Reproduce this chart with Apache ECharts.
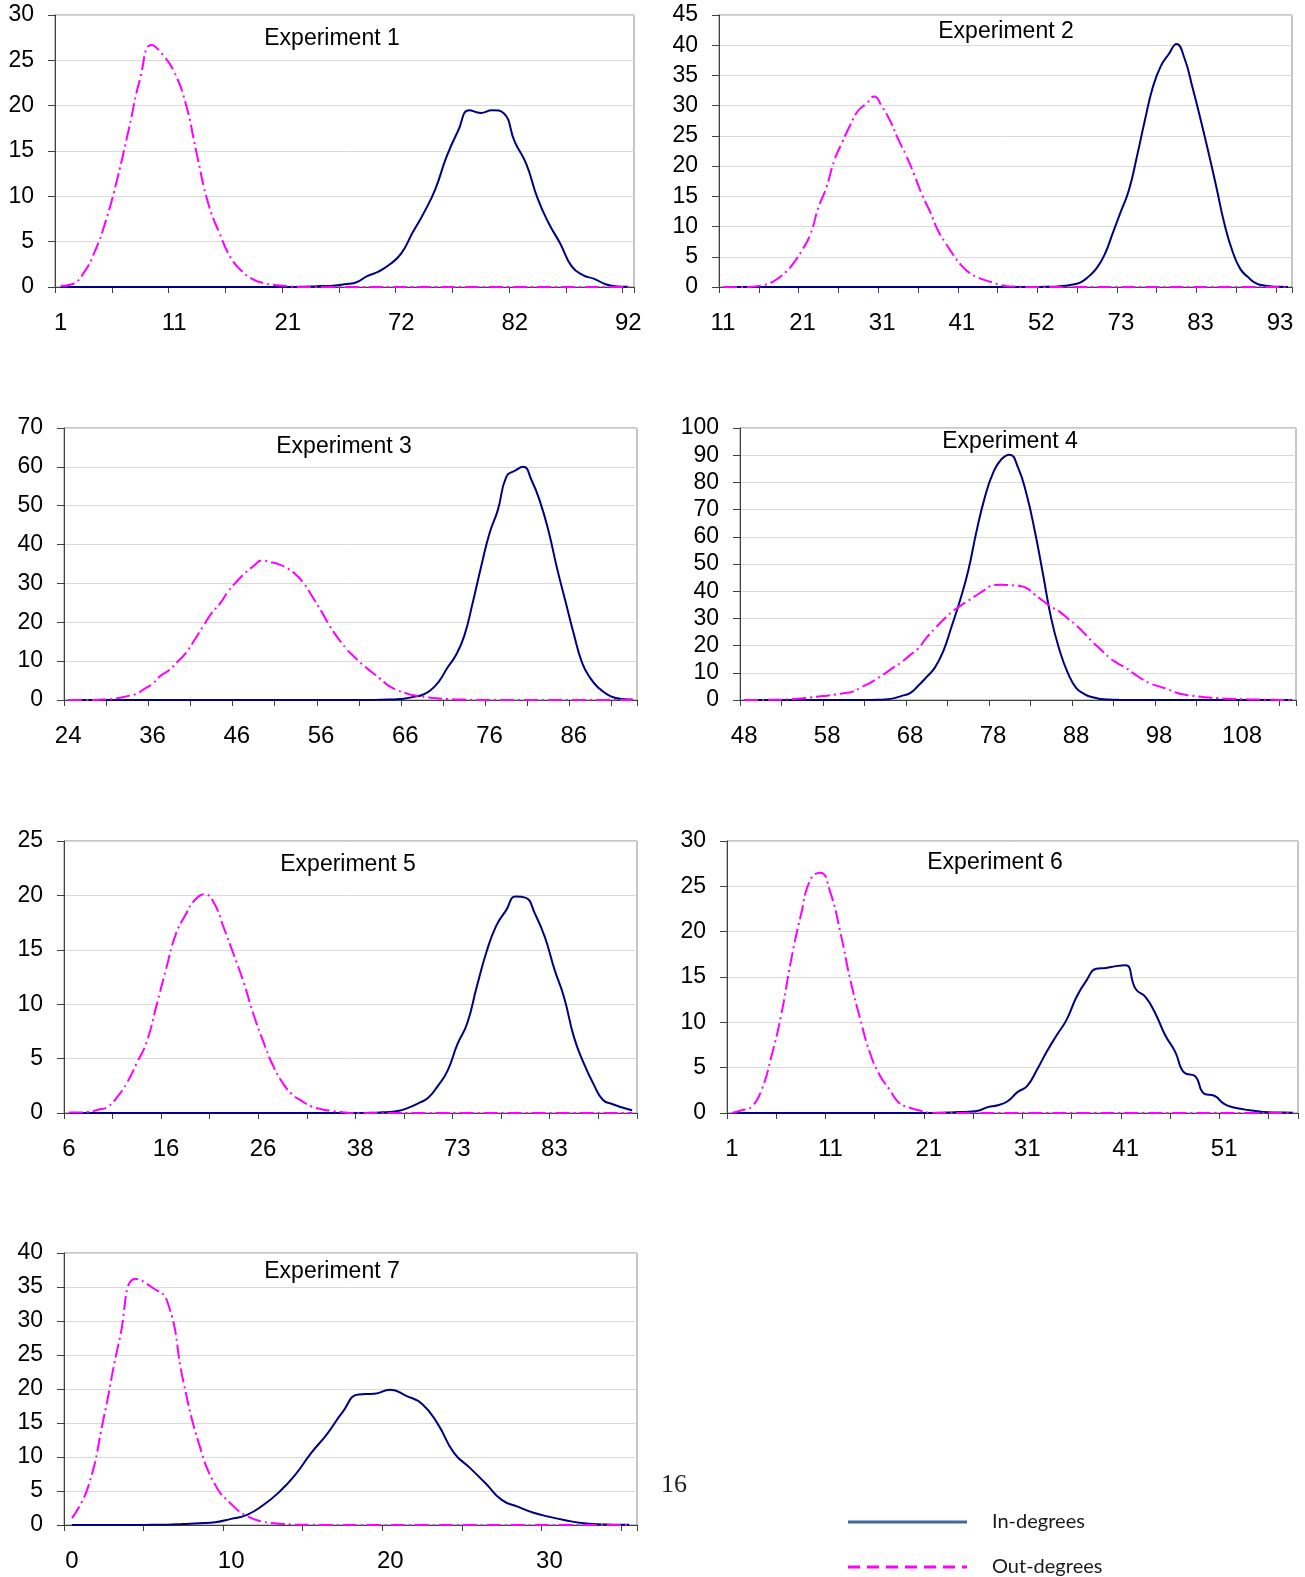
<!DOCTYPE html>
<html>
<head>
<meta charset="utf-8">
<script src="https://cdn.jsdelivr.net/npm/echarts@6/dist/echarts.min.js"></script>
<style>
html, body { margin: 0; padding: 0; background: #fff; }
#chart { width: 1305px; height: 1577px; }
</style>
</head>
<body>
<div id="chart"></div>
<script>
// category labels (degree values) for each experiment
function span(a, b) {
    const r = [];
    for (let v = a; v <= b; v++) r.push(String(v));
    return r;
}

const cats1 = span(1, 25).concat(span(67, 92));
const cats2 = span(11, 50).concat(span(52, 55), span(67, 94));
const cats3 = span(24, 33).concat(span(36, 93));
const cats4 = span(48, 114);
const cats5 = span(6, 35).concat(span(38, 42), span(68, 91));
const cats6 = span(1, 58);
const cats7 = span(0, 35);

// Experiment 1
const in1 = [0, 0, 0, 0, 0, 0, 0, 0, 0, 0, 0, 0, 0, 0, 0, 0, 0, 0, 0, 0, 0,
    0.02, 0.05, 0.1, 0.15, 0.3, 0.5, 1.2, 1.7, 2.5, 3.7, 6.0, 8.2, 10.8, 14.4, 17.2,
    19.5, 19.2, 19.5, 19.2, 16.0, 13.6, 9.8, 7.0, 4.8, 2.3, 1.3, 0.9, 0.3, 0.05, 0.02];
const out1 = [0.1, 0.3, 1.5, 3.9, 7.4, 12.0, 17.4, 23.0, 26.7, 25.6, 23.7, 20.3, 14.6, 9.2,
    5.9, 3.2, 1.7, 0.8, 0.4, 0.2, 0.1,
    0, 0, 0, 0, 0, 0, 0, 0, 0, 0, 0, 0, 0, 0, 0, 0, 0, 0, 0, 0, 0, 0, 0, 0, 0, 0, 0, 0, 0, 0];

// Experiment 2
const in2 = [0, 0, 0, 0, 0, 0, 0, 0, 0, 0, 0, 0, 0, 0, 0, 0, 0, 0, 0, 0,
    0, 0, 0, 0, 0, 0, 0, 0, 0, 0, 0, 0, 0, 0, 0, 0, 0, 0, 0, 0, 0.02,
    0.05, 0.1, 0.2, 0.4, 0.8, 1.8, 3.2, 5.5, 9.0, 12.5, 16.0, 21.5, 27.5, 33.0, 36.5,
    38.5, 40.2, 37.8, 33.0, 27.8, 22.3, 16.5, 10.5, 6.0, 3.0, 1.6, 0.6, 0.25, 0.1, 0.05, 0.02];
const out2 = [0, 0, 0, 0,
    0.1, 0.3, 0.7, 1.5, 2.6, 4.2, 6.2, 8.8, 13.2, 16.5, 21.0, 24.0, 26.8, 29.2, 30.3, 31.5,
    29.8, 27.5, 24.5, 21.8, 18.7, 15.3, 12.5, 9.4, 7.2, 5.2, 3.5, 2.3, 1.6, 1.1, 0.7, 0.3, 0.1, 0.05,
    0, 0, 0, 0, 0, 0, 0, 0, 0, 0, 0, 0, 0, 0, 0, 0, 0, 0, 0, 0, 0, 0, 0, 0, 0, 0, 0, 0, 0, 0, 0, 0, 0, 0];

// Experiment 3
const in3 = [0, 0, 0, 0, 0, 0, 0, 0, 0, 0, 0, 0, 0, 0, 0, 0, 0, 0,
    0, 0, 0, 0, 0, 0, 0, 0, 0, 0, 0, 0, 0, 0, 0, 0, 0, 0,
    0.02, 0.05, 0.1, 0.2, 0.4, 0.8, 1.3, 2.5, 4.8, 8.3, 11.5, 16.5, 25.0, 34.3, 42.9, 49.0,
    57.5, 59.0, 60.0, 56.5, 51.0, 43.5, 34.0, 25.5, 17.0, 9.5, 5.5, 3.0, 1.4, 0.5, 0.2, 0.1];
const out3 = [0, 0, 0, 0, 0.1, 0.2, 0.5, 1.0, 1.5, 2.8,
    4.2, 6.3, 7.7, 9.9, 12.2, 15.5, 18.9, 22.3, 24.8, 28.0,
    30.5, 32.7, 34.5, 35.9, 35.5, 34.9, 33.9, 32.3, 29.9, 26.5,
    23.0, 19.2, 16.0, 13.2, 11.0, 9.0, 7.2, 5.5, 3.7, 2.6,
    1.8, 1.2, 0.9, 0.6, 0.4, 0.25, 0.15, 0.1,
    0, 0, 0, 0, 0, 0, 0, 0, 0, 0, 0, 0, 0, 0, 0, 0, 0, 0, 0, 0];

// Experiment 4
const in4 = [0, 0, 0, 0, 0, 0, 0, 0, 0, 0, 0, 0, 0, 0, 0,
    0.02, 0.05, 0.2, 0.6, 1.5, 2.5, 5.3, 8.5, 12.0, 18.0, 27.0, 36.5, 47.5, 62.0, 74.5,
    83.5, 88.5, 90.2, 85.5, 76.0, 62.5, 46.5, 30.0, 18.4, 10.0, 4.5, 2.2, 1.0, 0.4, 0.15, 0.05,
    0, 0, 0, 0, 0, 0, 0, 0, 0, 0, 0, 0, 0, 0, 0, 0, 0, 0, 0, 0, 0];
const out4 = [0, 0, 0, 0.05, 0.1, 0.2, 0.4, 0.6, 0.9, 1.3,
    1.6, 2.0, 2.5, 3.0, 4.5, 6.0, 7.8, 9.8, 12.0, 14.0,
    16.5, 19.0, 23.0, 26.3, 29.5, 32.3, 34.5, 36.5, 38.5, 40.5,
    42.2, 42.4, 42.2, 42.0, 41.2, 38.8, 36.5, 34.3, 32.5, 30.0,
    27.5, 24.5, 21.3, 18.5, 15.6, 13.5, 11.8, 9.6, 7.6, 6.0,
    5.0, 4.0, 2.8, 2.0, 1.6, 1.2, 0.9, 0.7, 0.5, 0.4,
    0.3, 0.2, 0.15, 0.1, 0.05, 0, 0];

// Experiment 5
const in5 = [0, 0, 0, 0, 0, 0, 0, 0, 0, 0, 0, 0, 0, 0, 0, 0, 0, 0, 0, 0,
    0, 0, 0, 0, 0, 0, 0, 0, 0, 0, 0,
    0.02, 0.05, 0.1, 0.2, 0.5, 0.9, 1.4, 2.5, 3.9, 6.3, 8.2, 11.6, 14.8, 17.2,
    18.6, 19.9, 19.8, 18.3, 16.2, 13.2, 10.6, 7.0, 4.6, 2.7, 1.2, 0.8, 0.5, 0.25];
const out5 = [0.05, 0.05, 0.1, 0.3, 0.55, 1.5, 2.8, 4.6, 6.5, 9.8,
    13.2, 16.4, 18.2, 19.6, 20.1, 19.2, 16.9, 14.5, 12.0, 9.1,
    6.6, 4.4, 2.8, 1.7, 1.1, 0.6, 0.35, 0.2, 0.1,
    0, 0, 0, 0, 0, 0, 0, 0, 0, 0, 0, 0, 0, 0, 0, 0, 0, 0, 0, 0, 0, 0, 0, 0, 0, 0, 0, 0, 0, 0];

// Experiment 6
const in6 = [0, 0, 0, 0, 0, 0, 0, 0, 0, 0, 0, 0, 0, 0, 0, 0, 0, 0, 0, 0, 0,
    0.02, 0.05, 0.1, 0.15, 0.25, 0.65, 0.85, 1.3, 2.3, 3.0,
    4.8, 6.8, 8.6, 10.3, 12.8, 14.6, 15.9, 16.0, 16.2, 16.3,
    13.7, 12.8, 11.0, 8.6, 6.8, 4.4, 4.1, 2.1, 1.9, 1.0,
    0.6, 0.4, 0.25, 0.1, 0.05, 0.05, 0.02];
const out6 = [0, 0.3, 0.7, 2.5, 6.2, 10.8, 16.8, 21.8, 25.8, 26.5,
    24.3, 20.0, 14.8, 10.5, 6.7, 4.2, 2.6, 1.1, 0.6, 0.3, 0.05,
    0, 0, 0, 0, 0, 0, 0, 0, 0, 0, 0, 0, 0, 0, 0, 0, 0, 0, 0, 0,
    0, 0, 0, 0, 0, 0, 0, 0, 0, 0, 0, 0, 0, 0, 0, 0, 0];

// Experiment 7
const in7 = [0, 0, 0, 0, 0, 0.02, 0.05, 0.15, 0.25, 0.4,
    0.9, 1.5, 2.9, 4.8, 7.3, 10.5, 13.3, 16.6, 19.2, 19.3,
    19.9, 19.0, 17.8, 14.8, 10.6, 8.4, 6.1, 3.7, 2.7, 1.8,
    1.2, 0.7, 0.3, 0.1, 0.05, 0.02];
const out7 = [1.0, 5.5, 15.8, 27.4, 36.2, 35.0, 32.8, 21.1, 11.8, 5.9,
    3.1, 1.3, 0.5, 0.2, 0.08, 0.03,
    0, 0, 0, 0, 0, 0, 0, 0, 0, 0, 0, 0, 0, 0, 0, 0, 0, 0, 0, 0];

const titles = ['Experiment 1', 'Experiment 2', 'Experiment 3', 'Experiment 4',
    'Experiment 5', 'Experiment 6', 'Experiment 7'];
const yMax = [30, 45, 70, 100, 25, 30, 40];
const yStep = [5, 5, 10, 10, 5, 5, 5];

const cats = [cats1, cats2, cats3, cats4, cats5, cats6, cats7];
const ins = [in1, in2, in3, in4, in5, in6, in7];
const outs = [out1, out2, out3, out4, out5, out6, out7];

// plot areas and title anchors (px)
const boxes = [
    [55, 15, 579, 272], [719, 15, 573, 272],
    [64, 428, 573, 272], [740, 428, 556, 272],
    [64, 841, 573, 272], [727, 841, 571, 272],
    [64, 1253, 573, 272]
];
const titlePos = [[332, 39], [1006, 32], [344, 447], [1010, 442], [348, 865], [995, 863], [332, 1272]];

const fontFam = '"Liberation Sans", Arial, sans-serif';
const axisColor = '#404040';

const grid = [], xAxis = [], yAxis = [], series = [], graphic = [];

titles.forEach((t, i) => {
    const b = boxes[i];
    grid.push({
        left: b[0], top: b[1], width: b[2], height: b[3],
        show: true, backgroundColor: '#fff', borderColor: '#8c8c8c', borderWidth: 1,
        containLabel: false, outerBoundsMode: 'none'
    });
    xAxis.push({
        type: 'category', gridIndex: i, data: cats[i], boundaryGap: true,
        axisLine: { show: true, onZero: false, lineStyle: { color: axisColor, width: 1 } },
        axisTick: { show: true, interval: 4, length: 6, lineStyle: { color: axisColor } },
        axisLabel: { interval: 9, margin: 24, color: '#000', fontSize: 24, fontFamily: fontFam },
        splitLine: { show: false }
    });
    yAxis.push({
        type: 'value', gridIndex: i, min: 0, max: yMax[i], interval: yStep[i],
        axisLine: { show: true, lineStyle: { color: axisColor, width: 1 } },
        axisTick: { show: true, length: 7, lineStyle: { color: axisColor } },
        axisLabel: { margin: 21, color: '#000', fontSize: 23, fontFamily: fontFam },
        splitLine: { show: true, lineStyle: { color: '#d9d9d9', width: 1 } }
    });
    series.push({
        name: 'In-degrees', type: 'line', xAxisIndex: i, yAxisIndex: i,
        data: ins[i], smooth: 0.5, showSymbol: false, symbol: 'none', z: 2,
        lineStyle: { color: '#000080', width: 2 }
    });
    series.push({
        name: 'Out-degrees', type: 'line', xAxisIndex: i, yAxisIndex: i,
        data: outs[i], smooth: 0.5, showSymbol: false, symbol: 'none', z: 3,
        lineStyle: { color: '#ff00ff', width: 2, type: [14, 4, 2, 4] }
    });
    graphic.push({
        type: 'text', x: titlePos[i][0], y: titlePos[i][1], z: 10,
        style: {
            text: t, fill: '#000', font: '23px ' + fontFam,
            textAlign: 'center', textVerticalAlign: 'middle', align: 'center', verticalAlign: 'middle'
        }
    });
});

// page number and legend
graphic.push({
    type: 'text', x: 674, y: 1485,
    style: {
        text: '16', fill: '#222', font: '26px "Liberation Serif", serif',
        textAlign: 'center', textVerticalAlign: 'middle', align: 'center', verticalAlign: 'middle'
    }
});
graphic.push({
    type: 'line', shape: { x1: 848, y1: 1522, x2: 967, y2: 1522 },
    style: { stroke: '#41689c', lineWidth: 3 }
});
graphic.push({
    type: 'line', shape: { x1: 848, y1: 1567, x2: 967, y2: 1567 },
    style: { stroke: '#ff00ff', lineWidth: 3, lineDash: [12, 7] }
});
['In-degrees', 'Out-degrees'].forEach((t, k) => {
    graphic.push({
        type: 'text', x: 992, y: 1522 + k * 45,
        style: {
            text: t, fill: '#1a1a1a', font: '20px Lato, sans-serif',
            textAlign: 'left', textVerticalAlign: 'middle', align: 'left', verticalAlign: 'middle'
        }
    });
});

echarts.init(document.querySelector('#chart')).setOption({
    animation: false,
    backgroundColor: '#fff',
    grid: grid,
    xAxis: xAxis,
    yAxis: yAxis,
    series: series,
    graphic: graphic
});
</script>
</body>
</html>
